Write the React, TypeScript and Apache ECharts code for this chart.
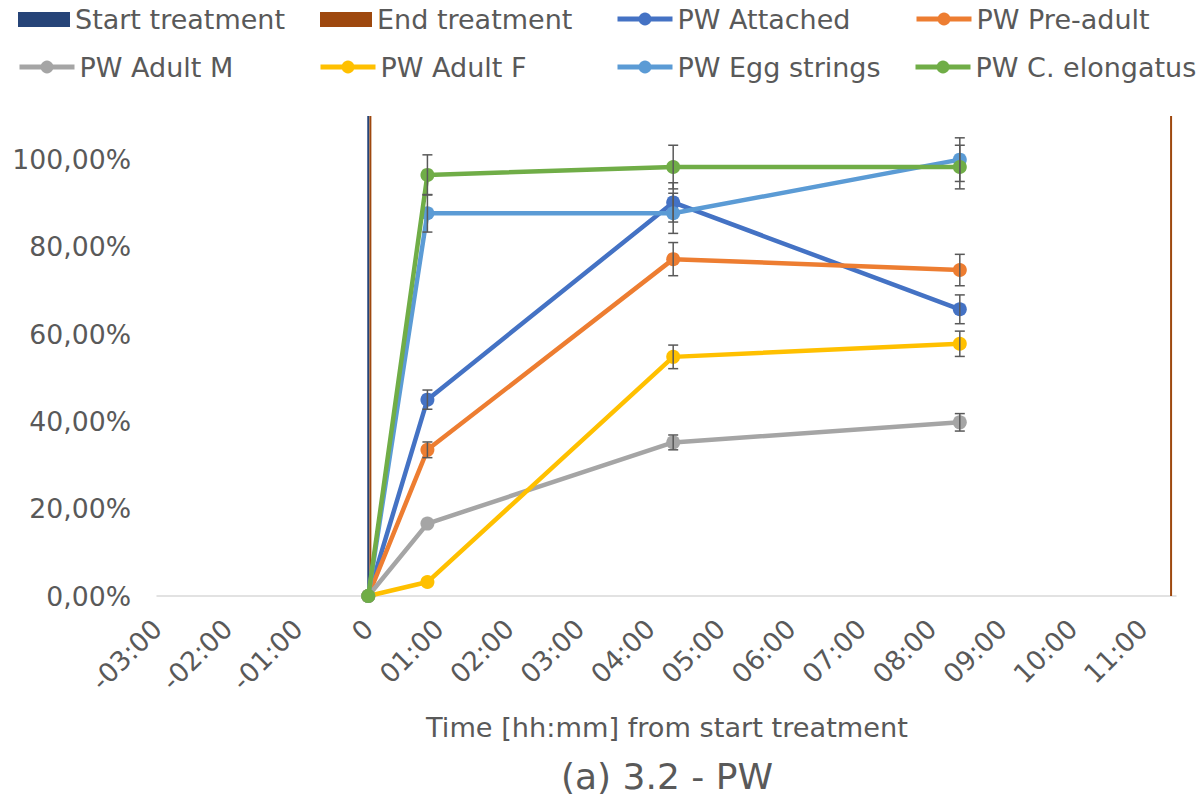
import React, { useEffect, useRef } from "react";
import * as echarts from "echarts";

// Time of observations in hours from start of treatment
const timesH = [0, 0.84, 4.33, 8.4];

const attached = [0, 0.45, 0.902, 0.657];
const attachedErr = [0, 0.022, 0.045, 0.033];
const preAdult = [0, 0.335, 0.772, 0.747];
const preAdultErr = [0, 0.018, 0.038, 0.036];
const adultM = [0, 0.166, 0.352, 0.398];
const adultMErr = [0, 0, 0.017, 0.02];
const adultF = [0, 0.032, 0.548, 0.578];
const adultFErr = [0, 0, 0.027, 0.029];
const eggStrings = [0, 0.877, 0.877, 1.0];
const eggStringsErr = [0, 0.043, 0.046, 0.05];
const cElongatus = [0, 0.965, 0.983, 0.983];
const cElongatusErr = [0, 0.046, 0.05, 0.05];

const startTreatmentX = [0];
const endTreatmentX = [0.03, 11.4];

const xTickValues = [-3, -2, -1, 0, 1, 2, 3, 4, 5, 6, 7, 8, 9, 10, 11];
const xTickLabels = [
  "-03:00", "-02:00", "-01:00", "0", "01:00", "02:00", "03:00", "04:00",
  "05:00", "06:00", "07:00", "08:00", "09:00", "10:00", "11:00",
];
const yTickValues = [0, 0.2, 0.4, 0.6, 0.8, 1.0];
const yTickLabels = ["0,00%", "20,00%", "40,00%", "60,00%", "80,00%", "100,00%"];

const X_MIN = -3;
const X_MAX = 11.47;
const Y_MAX = 1.1;

const dataSeries = [
  { name: "PW Attached", values: attached, errs: attachedErr, color: "#4472C4" },
  { name: "PW Pre-adult", values: preAdult, errs: preAdultErr, color: "#ED7D31" },
  { name: "PW Adult M", values: adultM, errs: adultMErr, color: "#A5A5A5" },
  { name: "PW Adult F", values: adultF, errs: adultFErr, color: "#FFC000" },
  { name: "PW Egg strings", values: eggStrings, errs: eggStringsErr, color: "#5B9BD5" },
  { name: "PW C. elongatus", values: cElongatus, errs: cElongatusErr, color: "#70AD47" },
];

const START_COLOR = "#264478";
const END_COLOR = "#9E480E";
const TEXT = "#595959";
const FONT = "DejaVu Sans";
const FS = 26.7;
const LEGEND_FS = 27;

export default function App() {
  const ref = useRef<HTMLDivElement>(null);
  useEffect(() => {
    if (!ref.current) return;
    const chart = echarts.init(ref.current, null, { renderer: "svg" });

    const series: any[] = [];
    startTreatmentX.forEach((x) => {
      series.push({
        name: "Start treatment",
        type: "line",
        data: [[x, 0], [x, Y_MAX]],
        showSymbol: false,
        symbol: "none",
        color: START_COLOR,
        lineStyle: { color: START_COLOR, width: 2 },
        z: 1,
        silent: true,
      });
    });
    endTreatmentX.forEach((x) => {
      series.push({
        name: "End treatment",
        type: "line",
        data: [[x, 0], [x, Y_MAX]],
        showSymbol: false,
        symbol: "none",
        color: END_COLOR,
        lineStyle: { color: END_COLOR, width: 2 },
        z: 1,
        silent: true,
      });
    });
    dataSeries.forEach((s, i) => {
      series.push({
        name: s.name,
        type: "line",
        data: timesH.map((t, k) => [t, s.values[k]]),
        symbol: "circle",
        symbolSize: 14,
        color: s.color,
        itemStyle: { color: s.color },
        lineStyle: { color: s.color, width: 4.5 },
        z: 2 + i * 0.01,
        silent: true,
      });
    });
    dataSeries.forEach((s) => {
      series.push({
        type: "custom",
        data: timesH.map((t, k) => [t, s.values[k], s.errs[k]]),
        z: 3,
        silent: true,
        clip: false,
        renderItem: (params: any, api: any) => {
          const x = api.value(0);
          const y = api.value(1);
          const e = api.value(2);
          if (!e) return { type: "group", children: [] };
          const top = api.coord([x, y + e]);
          const bot = api.coord([x, y - e]);
          const w = 5;
          const style = { stroke: "#595959", lineWidth: 1.5 };
          return {
            type: "group",
            children: [
              { type: "line", shape: { x1: top[0], y1: top[1], x2: bot[0], y2: bot[1] }, style },
              { type: "line", shape: { x1: top[0] - w, y1: top[1], x2: top[0] + w, y2: top[1] }, style },
              { type: "line", shape: { x1: bot[0] - w, y1: bot[1], x2: bot[0] + w, y2: bot[1] }, style },
            ],
          };
        },
      });
    });

    const legendItem = (name: string, left: number, top: number, rect: boolean) => ({
      data: [rect ? { name, icon: "rect" } : { name }],
      left,
      top: rect ? top : top - 0.5,
      padding: 0,
      itemWidth: rect ? 52 : 55,
      itemHeight: rect ? 15 : 16,
      itemGap: 0,
      selectedMode: false,
      lineStyle: { width: 5 },
      textStyle: { color: TEXT, fontSize: LEGEND_FS, fontFamily: FONT, lineHeight: 28, padding: [0, 0, 0, 0] },
    });

    const r1 = 5.5;
    const r2 = 53.5;
    const option: any = {
      animation: false,
      textStyle: { fontFamily: FONT },
      grid: { left: 157, right: 25, top: 116, bottom: 202, containLabel: false },
      legend: [
        legendItem("Start treatment", 18, r1, true),
        legendItem("End treatment", 320, r1, true),
        legendItem("PW Attached", 615, r1, false),
        legendItem("PW Pre-adult", 914, r1, false),
        legendItem("PW Adult M", 17, r2, false),
        legendItem("PW Adult F", 318, r2, false),
        legendItem("PW Egg strings", 615, r2, false),
        legendItem("PW C. elongatus", 913, r2, false),
      ],
      xAxis: {
        type: "value",
        min: X_MIN,
        max: X_MAX,
        interval: 1,
        axisLine: { show: true, onZero: false, lineStyle: { color: "#D9D9D9", width: 1.5 } },
        axisTick: { show: false },
        splitLine: { show: false },
        axisLabel: {
          rotate: 45,
          margin: 28,
          color: TEXT,
          fontSize: FS,
          fontFamily: FONT,
          showMaxLabel: false,
          formatter: (v: number) => {
            const idx = xTickValues.findIndex((t) => Math.abs(t - v) < 1e-6);
            return idx >= 0 ? xTickLabels[idx] : "";
          },
        },
      },
      yAxis: {
        type: "value",
        min: 0,
        max: Y_MAX,
        interval: 0.2,
        axisLine: { show: false },
        axisTick: { show: false },
        splitLine: { show: false },
        axisLabel: {
          margin: 26,
          color: TEXT,
          fontSize: FS,
          fontFamily: FONT,
          formatter: (v: number) => {
            const idx = yTickValues.findIndex((t) => Math.abs(t - v) < 1e-6);
            return idx >= 0 ? yTickLabels[idx] : "";
          },
        },
      },
      graphic: [
        {
          type: "text",
          x: 667,
          y: 727,
          style: {
            text: "Time [hh:mm] from start treatment",
            fill: TEXT,
            font: `27.2px "${FONT}"`,
            align: "center",
            verticalAlign: "middle",
          },
        },
        {
          type: "text",
          x: 667,
          y: 776,
          style: {
            text: "(a) 3.2 - PW",
            fill: TEXT,
            font: `36px "${FONT}"`,
            align: "center",
            verticalAlign: "middle",
          },
        },
      ],
      series,
    };
    chart.setOption(option);
    return () => chart.dispose();
  }, []);
  return (
    <div
      ref={ref}
      style={{ position: "fixed", left: 0, top: 0, width: 1201, height: 798, background: "#fff" }}
    />
  );
}
